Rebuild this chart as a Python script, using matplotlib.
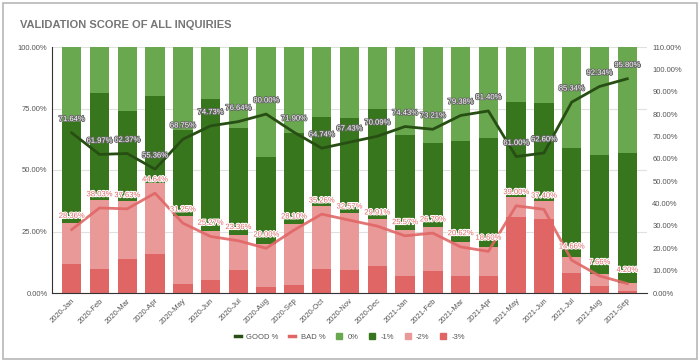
import numpy as np
import matplotlib
matplotlib.use("Agg")
import matplotlib.pyplot as plt
import matplotlib.patheffects as pe
from matplotlib.patches import Rectangle
from matplotlib.lines import Line2D

plt.rcParams['font.family'] = ['Liberation Sans', 'DejaVu Sans']

months = ['2020-Jan', '2020-Feb', '2020-Mar', '2020-Apr', '2020-May', '2020-Jun', '2020-Jul',
          '2020-Aug', '2020-Sep', '2020-Oct', '2020-Nov', '2020-Dec', '2021-Jan', '2021-Feb',
          '2021-Mar', '2021-Apr', '2021-May', '2021-Jun', '2021-Jul', '2021-Aug', '2021-Sep']

# stacked shares (%)
neg3 = [11.8, 9.9, 13.9, 15.9, 3.7, 5.3, 9.2, 2.6, 3.1, 9.9, 9.5, 11.0, 6.8, 9.1, 7.0, 6.8,
        31.0, 30.1, 8.0, 2.8, 0.9]
neg2 = [16.6, 28.1, 23.7, 28.7, 27.6, 20.0, 14.2, 17.4, 25.0, 25.4, 23.1, 18.9, 18.8, 17.7,
        13.6, 11.8, 8.0, 7.3, 6.7, 4.9, 3.3]
neg1 = [41.2, 43.4, 36.4, 35.5, 35.0, 53.6, 43.5, 35.2, 36.8, 36.1, 38.5, 44.8, 38.6, 34.3,
        41.3, 44.4, 38.8, 40.0, 44.4, 48.4, 52.8]
zero = [30.4, 18.6, 26.0, 19.9, 33.7, 21.1, 33.1, 44.8, 35.1, 28.6, 28.9, 25.3, 35.8, 38.9,
        38.1, 37.0, 22.2, 22.6, 40.9, 43.9, 43.0]

good = [71.64, 61.97, 62.37, 55.36, 68.75, 74.73, 76.64, 80.00, 71.90, 64.74, 67.43, 70.09,
        74.43, 73.21, 79.38, 81.40, 61.00, 62.60, 85.34, 92.34, 95.80]
bad = [28.36, 38.03, 37.63, 44.64, 31.25, 25.27, 23.36, 20.00, 28.10, 35.26, 32.57, 29.91,
       25.57, 26.79, 20.62, 18.60, 39.00, 37.40, 14.66, 7.66, 4.20]

c_zero = '#6aa84f'
c_neg1 = '#38761d'
c_neg2 = '#ea9999'
c_neg3 = '#e06666'
c_good = '#274e13'
c_bad = '#e06666'
txt = '#555555'

fig = plt.figure(figsize=(7, 3.62), dpi=100)
fig.patches.append(Rectangle((3 / 700, 3 / 362), 694 / 700, 356 / 362, transform=fig.transFigure,
                             fill=False, edgecolor='#b7b7b7', linewidth=1.2))
fig.text(20 / 700, 1 - 25 / 362, 'VALIDATION SCORE OF ALL INQUIRIES', fontsize=8,
         fontweight='bold', color='#757575', va='center', ha='left')

ax = fig.add_axes([51.7 / 700, 1 - 293 / 362, 595 / 700, 246 / 362])
x = np.arange(len(months))
w = 0.7
b = np.zeros(len(months))
for vals, col in [(neg3, c_neg3), (neg2, c_neg2), (neg1, c_neg1), (zero, c_zero)]:
    ax.bar(x, vals, w, bottom=b, color=col, zorder=2)
    b = b + np.array(vals)

ax.set_xlim(-0.72, len(months) - 0.3)
ax.set_ylim(0, 100)
ax.set_yticks([0, 25, 50, 75, 100])
ax.set_yticklabels(['%.2f%%' % v for v in [0, 25, 50, 75, 100]])
ax.grid(axis='y', color='#e0e0e0', linewidth=0.8, zorder=0)
ax.set_axisbelow(True)
ax.set_xticks(x)
ax.set_xticklabels(months, rotation=45, ha='right', rotation_mode='anchor')
ax.tick_params(axis='both', length=0, labelsize=5.5, colors=txt, pad=3)
for s in ['top', 'right']:
    ax.spines[s].set_visible(False)
ax.spines['left'].set_color('#333333')
ax.spines['bottom'].set_color('#333333')

ax2 = ax.twinx()
ax2.set_ylim(0, 110)
ax2.set_yticks(np.arange(0, 111, 10))
ax2.set_yticklabels(['%.2f%%' % v for v in np.arange(0, 111, 10)])
ax2.tick_params(axis='y', length=0, labelsize=5.5, colors=txt, pad=4)
for s in ['top', 'right', 'left', 'bottom']:
    ax2.spines[s].set_visible(False)

ax2.plot(x, good, color=c_good, linewidth=2, zorder=3)
ax2.plot(x, bad, color=c_bad, linewidth=2, alpha=0.9, zorder=3)

for i in range(len(months)):
    ax2.annotate('%.2f%%' % good[i], (x[i], good[i]), xytext=(0, 9.5), textcoords='offset points',
                 ha='center', va='center', fontsize=5.5, color='white',
                 path_effects=[pe.withStroke(linewidth=1.3, foreground='#666666')], zorder=4)
    ax2.annotate('%.2f%%' % bad[i], (x[i], bad[i]), xytext=(0, 9.5), textcoords='offset points',
                 ha='center', va='center', fontsize=5.5, color='#e06666',
                 path_effects=[pe.withStroke(linewidth=1.5, foreground='white')], zorder=4)

handles = [Line2D([], [], color=c_good, linewidth=2.5),
           Line2D([], [], color=c_bad, linewidth=2.5),
           Rectangle((0, 0), 1, 1, color=c_zero),
           Rectangle((0, 0), 1, 1, color=c_neg1),
           Rectangle((0, 0), 1, 1, color=c_neg2),
           Rectangle((0, 0), 1, 1, color=c_neg3)]
fig.legend(handles, ['GOOD %', 'BAD %', '0%', '-1%', '-2%', '-3%'], loc='center',
           bbox_to_anchor=(350 / 700, 1 - 337 / 362), ncol=6, frameon=False, fontsize=5.5,
           handlelength=0.8, handleheight=0.8, columnspacing=1.4, handletextpad=0.7,
           labelcolor=txt)

fig.savefig('out.png', dpi=100)
